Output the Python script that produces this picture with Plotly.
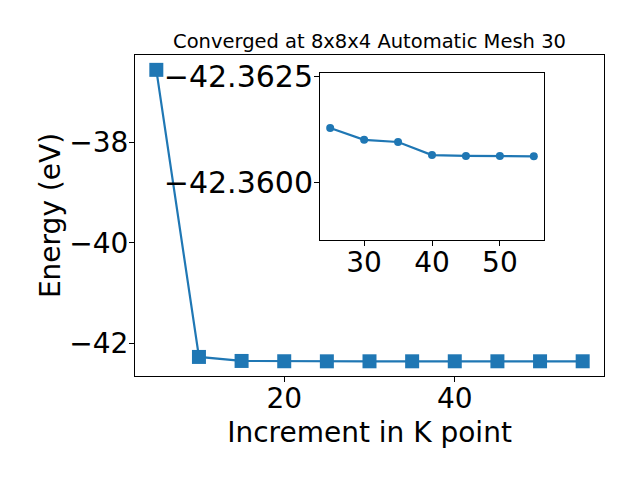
import plotly.graph_objects as go

k_points = [5, 10, 15, 20, 25, 30, 35, 40, 45, 50, 55]
energy = [-36.55, -42.274, -42.354, -42.360, -42.36128, -42.36100, -42.36095,
          -42.36064, -42.36062, -42.36062, -42.36061]
inset_k = k_points[4:]
inset_energy = energy[4:]

main_xticks = [20, 40]
main_yticks = [-42, -40, -38]
inset_xticks = [30, 40, 50]
inset_yticks = [-42.3625, -42.3600]

color = "#1f77b4"
font = "DejaVu Sans"

fig = go.Figure()
fig.add_trace(go.Scatter(x=k_points, y=energy, mode="lines+markers",
                         line=dict(color=color, width=2.2),
                         marker=dict(symbol="square", size=14, color=color),
                         showlegend=False, xaxis="x", yaxis="y"))
fig.add_trace(go.Scatter(x=inset_k, y=inset_energy, mode="lines+markers",
                         line=dict(color=color, width=2.2),
                         marker=dict(symbol="circle", size=8, color=color),
                         showlegend=False, xaxis="x2", yaxis="y2"))

axis_common = dict(showline=True, linecolor="black", linewidth=1, mirror=True,
                   ticks="outside", ticklen=5, tickwidth=1, tickcolor="black",
                   showgrid=False, zeroline=False)
tf = dict(family=font, size=28, color="black")

L, R, T, B = 135, 604, 55, 376
fig.update_layout(
    width=640, height=480,
    margin=dict(l=L, r=640 - R, t=T, b=480 - B),
    paper_bgcolor="white", plot_bgcolor="white",
    font=dict(family=font, color="black"),
    title=dict(text="Converged at 8x8x4 Automatic Mesh 30",
               font=dict(family=font, size=19.5, color="black"),
               x=(L + R) / 2 / 640, xanchor="center",
               y=1 - 41 / 480, yanchor="middle"),
    xaxis=dict(range=[2.5, 57.5], tickvals=main_xticks, ticklabelstandoff=-8,
               tickfont=tf,
               title=dict(text="Increment in K point", standoff=8,
                          font=dict(family=font, size=28, color="black")),
               domain=[0, 1], **axis_common),
    yaxis=dict(range=[-42.654, -36.254], tickvals=main_yticks, ticklabelstandoff=-5,
               tickfont=tf,
               title=dict(text="Energy (eV)", standoff=0,
                          font=dict(family=font, size=28, color="black")),
               domain=[0, 1], **axis_common),
    xaxis2=dict(range=[23.5, 56.5], tickvals=inset_xticks, anchor="y2",
                ticklabelstandoff=-8, tickfont=tf,
                domain=[(320 - L) / (R - L), (544 - L) / (R - L)], **axis_common),
    yaxis2=dict(range=[-42.35863, -42.36259], tickvals=inset_yticks,
                tickformat=".4f", anchor="x2", ticklabelstandoff=-5,
                tickfont=dict(family=font, size=30, color="black"),
                domain=[(B - 240) / (B - T), (B - 72.7) / (B - T)], **axis_common),
)

fig.write_html("out.html", config={"displayModeBar": False},
               post_script="document.body.style.margin='0px';")
